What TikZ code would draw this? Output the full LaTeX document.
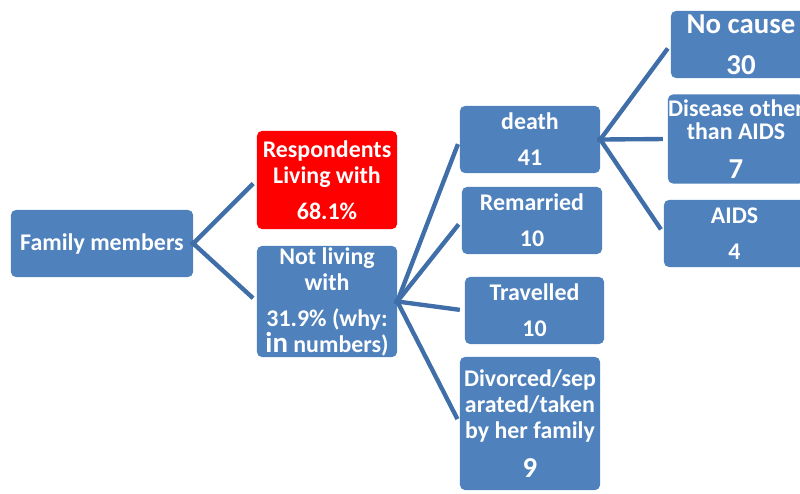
\documentclass[tikz,border=0pt]{standalone}
\usepackage{fontspec}
\setmainfont{Carlito}
\definecolor{boxblue}{HTML}{4F81BD}
\definecolor{linkblue}{HTML}{3F6EA8}
\newcommand{\largetxt}[1]{{\fontsize{20.5}{22}\selectfont #1}}
\tikzset{
  box/.style={rectangle, rounded corners=3.5pt, fill=boxblue, text=white, inner sep=0pt,
    align=center, font=\bfseries\fontsize{17}{18.5}\selectfont},
  link/.style={draw=linkblue, line width=3.1pt, shorten <=-2pt, shorten >=3.5pt}
}
\begin{document}
\begin{tikzpicture}[x=0.025cm, y=-0.025cm]
\useasboundingbox (0,0) rectangle (800,493);
\clip (0,0) rectangle (800,493);
\node[box, minimum width=4.55cm, minimum height=1.675cm] (family) at (102,243.5) {Family members};
\node[box, fill=red, minimum width=3.5cm, minimum height=2.45cm] (living) at (327,180) {Respondents\\ Living with\\[7pt] 68.1\%};
\node[box, minimum width=3.5cm, minimum height=2.775cm] (notliving) at (327,301.5) {Not living\\ with\\[7pt] 31.9\% (why:\\ \largetxt{in} numbers)};
\draw[link] (family.east) -- (living.west);
\draw[link] (family.east) -- (notliving.west);
\node[box, minimum width=3.5cm, minimum height=1.675cm] (death) at (530,139.5) {death\\[7pt] 41};
\node[box, minimum width=3.5cm, minimum height=1.675cm] (remarried) at (532,220.5) {Remarried\\[7pt] 10};
\node[box, minimum width=3.475cm, minimum height=1.675cm] (travelled) at (534.5,310.5) {Travelled\\[7pt] 10};
\node[box, minimum width=3.5cm, minimum height=3.325cm] (divorced) at (530,423.5) {Divorced/sep\\ arated/taken\\ by her family\\[9pt] \largetxt{9}};
\draw[link] (notliving.east) -- (death.west);
\draw[link] (notliving.east) -- (remarried.west);
\draw[link] (notliving.east) -- (travelled.west);
\draw[link] (notliving.east) -- (divorced.west);
\node[box, minimum width=3.5cm, minimum height=1.675cm] (nocause) at (741,44.5) {\largetxt{No cause}\\[11pt] \largetxt{30}};
\node[box, minimum width=3.4cm, minimum height=2.225cm] (disease) at (736,139) {Disease other\\[-2pt] than AIDS\\[9pt] \largetxt{7}};
\node[box, minimum width=3.525cm, minimum height=1.675cm] (aids) at (734.5,233.5) {AIDS\\[7pt] 4};
\draw[link] (death.east) -- (nocause.west);
\draw[link] (death.east) -- (disease.west);
\draw[link] (death.east) -- (aids.west);
\end{tikzpicture}
\end{document}
